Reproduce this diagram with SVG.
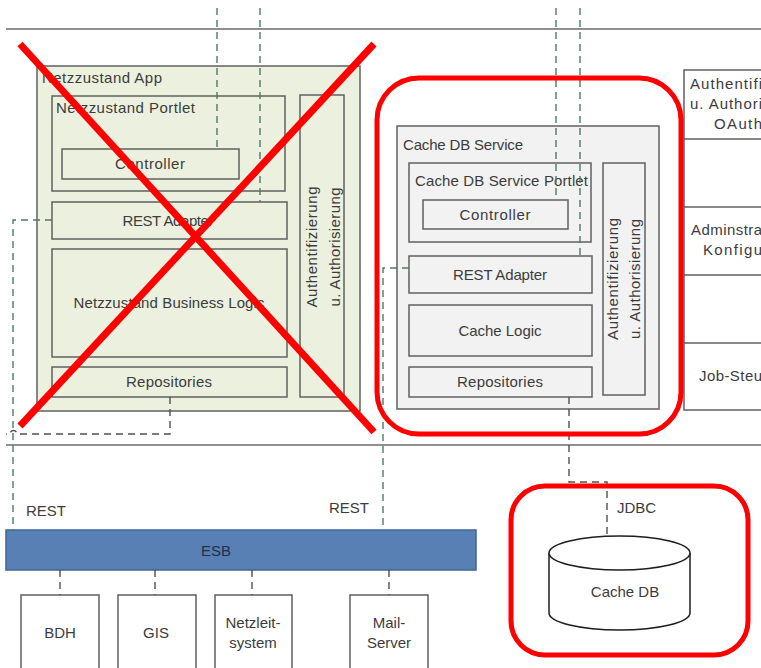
<svg xmlns="http://www.w3.org/2000/svg" width="761" height="668" viewBox="0 0 761 668">
  <style>
    text { font-family: "Liberation Sans", Arial, sans-serif; font-size: 15px; fill: #3c3c3c; }
    .c { text-anchor: middle; }
    .box { stroke: #606060; stroke-width: 1.5; }
    .green { fill: #ebf1de; }
    .grey { fill: #f2f2f2; }
    .white { fill: #ffffff; }
    .rule { stroke: #6b6b6b; stroke-width: 1.5; fill: none; }
    .dash-g { stroke: #4f7a64; stroke-width: 1.4; stroke-dasharray: 7 5; fill: none; }
    .dash-k { stroke: #505050; stroke-width: 1.4; stroke-dasharray: 7 5; fill: none; }
    .red { stroke: #ff0000; fill: none; }
  </style>

  <rect width="761" height="668" fill="#ffffff"/>

  <!-- layer separators -->
  <g id="separators">
    <line class="rule" x1="6" y1="29" x2="761" y2="29"/>
    <line class="rule" x1="6" y1="445" x2="761" y2="445"/>
  </g>

  <!-- Netzzustand App -->
  <g id="netzzustand-app">
    <rect class="box green" x="37" y="66" width="323" height="345"/>
    <text x="42" y="83" textLength="120">Netzzustand App</text>
  </g>
  <g id="nz-portlet">
    <rect class="box green" x="52" y="96" width="233" height="95"/>
    <text x="56" y="113" textLength="139">Netzzustand Portlet</text>
  </g>
  <g id="nz-controller">
    <rect class="box green" x="62" y="149" width="177" height="30"/>
    <text class="c" x="150" y="169" textLength="70">Controller</text>
  </g>
  <g id="nz-rest-adapter">
    <rect class="box green" x="52" y="202" width="235" height="37"/>
    <text class="c" x="168" y="226" textLength="91">REST Adapter</text>
  </g>
  <g id="nz-business-logic">
    <rect class="box green" x="52" y="249" width="235" height="108"/>
    <text class="c" x="169" y="308" textLength="191">Netzzustand Business Logic</text>
  </g>
  <g id="nz-repositories">
    <rect class="box green" x="52" y="367" width="235" height="30"/>
    <text class="c" x="169" y="387" textLength="86">Repositories</text>
  </g>
  <g id="nz-auth">
    <rect class="box green" x="300" y="95" width="44" height="302"/>
    <text class="c" transform="translate(317,247) rotate(-90)" textLength="121">Authentifizierung</text>
    <text class="c" transform="translate(340,247) rotate(-90)" textLength="119">u. Authorisierung</text>
  </g>

  <!-- Cache DB Service -->
  <g id="cache-db-service">
    <rect class="box grey" x="397" y="126" width="262" height="283"/>
    <text x="403" y="150" textLength="120">Cache DB Service</text>
  </g>
  <g id="cache-portlet">
    <rect class="box grey" x="409" y="163" width="182" height="79"/>
    <text x="415" y="186" textLength="173">Cache DB Service Portlet</text>
  </g>
  <g id="cache-controller">
    <rect class="box grey" x="423" y="200" width="145" height="29"/>
    <text class="c" x="495" y="220" textLength="71">Controller</text>
  </g>
  <g id="cache-rest-adapter">
    <rect class="box grey" x="409" y="256" width="183" height="37"/>
    <text class="c" x="500" y="280" textLength="94">REST Adapter</text>
  </g>
  <g id="cache-logic">
    <rect class="box grey" x="409" y="305" width="183" height="51"/>
    <text class="c" x="500" y="336" textLength="83">Cache Logic</text>
  </g>
  <g id="cache-repositories">
    <rect class="box grey" x="409" y="367" width="183" height="30"/>
    <text class="c" x="500" y="387" textLength="86">Repositories</text>
  </g>
  <g id="cache-auth">
    <rect class="box grey" x="603" y="163" width="42" height="232"/>
    <text class="c" transform="translate(618,279) rotate(-90)" textLength="122">Authentifizierung</text>
    <text class="c" transform="translate(640,279) rotate(-90)" textLength="120">u. Authorisierung</text>
  </g>

  <!-- cross-cutting services column -->
  <g id="services-column">
    <rect class="box white" x="684" y="70" width="90" height="340"/>
    <line class="box" x1="684" y1="139" x2="774" y2="139"/>
    <line class="box" x1="684" y1="207" x2="774" y2="207"/>
    <line class="box" x1="684" y1="275" x2="774" y2="275"/>
    <line class="box" x1="684" y1="343" x2="774" y2="343"/>
    <text x="690" y="89" textLength="72">Authentifi</text>
    <text x="690" y="109" textLength="72">u. Authori</text>
    <text x="714" y="129" textLength="48">OAuth</text>
    <text x="691" y="235" textLength="71">Adminstra</text>
    <text x="703" y="255" textLength="59">Konfigu</text>
    <text x="699" y="381" textLength="63">Job-Steu</text>
  </g>

  <!-- ESB and external systems -->
  <g id="esb">
    <rect x="6" y="530" width="470" height="40" fill="#5880b4" stroke="#3f6494" stroke-width="1.5"/>
    <text class="c" x="216" y="556" style="fill:#1f2e4c">ESB</text>
  </g>
  <g id="bdh">
    <rect class="box white" x="21" y="595" width="78" height="100"/>
    <text class="c" x="60" y="638">BDH</text>
  </g>
  <g id="gis">
    <rect class="box white" x="118" y="595" width="78" height="100"/>
    <text class="c" x="156" y="638">GIS</text>
  </g>
  <g id="netzleitsystem">
    <rect class="box white" x="215" y="595" width="77" height="100"/>
    <text class="c" x="253" y="628">Netzleit-</text>
    <text class="c" x="253" y="648">system</text>
  </g>
  <g id="mail-server">
    <rect class="box white" x="350" y="595" width="78" height="100"/>
    <text class="c" x="389" y="628">Mail-</text>
    <text class="c" x="389" y="648">Server</text>
  </g>

  <!-- Cache DB -->
  <g id="cache-db">
    <path d="M549,553 L549,613 A70.5,17 0 0 0 690,613 L690,553" fill="#ffffff" stroke="#1e1e1e" stroke-width="1.5"/>
    <ellipse cx="619.5" cy="553" rx="70.5" ry="17" fill="#ffffff" stroke="#1e1e1e" stroke-width="1.5"/>
    <text class="c" x="625" y="597">Cache DB</text>
  </g>

  <!-- connectors -->
  <g id="connectors">
    <line class="dash-g" x1="217" y1="8" x2="217" y2="149"/>
    <line class="dash-g" x1="260" y1="8" x2="260" y2="202"/>
    <line class="dash-g" x1="556" y1="8" x2="556" y2="200"/>
    <line class="dash-g" x1="580" y1="8" x2="580" y2="256"/>
    <polyline class="dash-g" points="52,220 13,220 13,530"/>
    <path class="dash-k" d="M170,397 L170,434 L17,434 A3.5,3.5 0 0 0 10,434 L6,434"/>
    <polyline class="dash-g" points="409,268 383,268 383,530"/>
    <polyline class="dash-k" points="569,397 569,482 607,482 607,536"/>
    <line class="dash-k" x1="60" y1="570" x2="60" y2="595"/>
    <line class="dash-k" x1="155" y1="570" x2="155" y2="595"/>
    <line class="dash-k" x1="252" y1="570" x2="252" y2="595"/>
    <line class="dash-k" x1="389" y1="570" x2="389" y2="595"/>
    <text x="26" y="516">REST</text>
    <text x="329" y="513">REST</text>
    <text x="617" y="513">JDBC</text>
  </g>

  <!-- highlight frames and strike-out -->
  <g id="markup">
    <rect class="red" x="377" y="78" width="304" height="356" rx="42" stroke-width="5"/>
    <rect class="red" x="511" y="486" width="237" height="169" rx="34" stroke-width="5"/>
    <line class="red" x1="20" y1="44" x2="374" y2="432" stroke-width="7"/>
    <line class="red" x1="374" y1="44" x2="20" y2="426" stroke-width="7"/>
  </g>
</svg>
